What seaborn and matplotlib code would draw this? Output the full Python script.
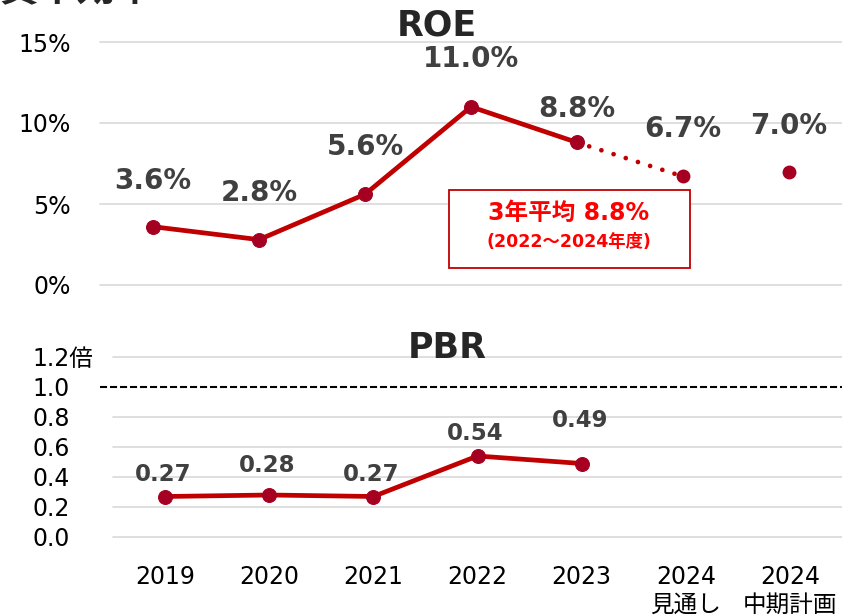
import matplotlib
matplotlib.use('Agg')
import matplotlib.pyplot as plt
import seaborn as sns
import pandas as pd
from matplotlib.patches import Rectangle

# ---------------- data ----------------
categories = ['2019', '2020', '2021', '2022', '2023', '2024\n見通し', '2024\n中期計画']
roe_actual = [3.6, 2.8, 5.6, 11.0, 8.8]
roe_forecast = 6.7
roe_plan = 7.0
pbr_actual = [0.27, 0.28, 0.27, 0.54, 0.49]
roe_ticks = [0, 5, 10, 15]
roe_tick_labels = ['0%', '5%', '10%', '15%']
pbr_ticks = [0.0, 0.2, 0.4, 0.6, 0.8, 1.0, 1.2]
pbr_tick_labels = ['0.0', '0.2', '0.4', '0.6', '0.8', '1.0', '1.2倍']
pbr_reference = 1.0
heading = '資本効率'
avg_title = '3年平均 8.8%'
avg_sub = '(2022～2024年度)'

# ---------------- style ----------------
sns.set_theme(style='white')
plt.rcParams['font.family'] = ['DejaVu Sans', 'Noto Sans CJK JP']

LINE = '#C00000'
MARK = '#A50021'
LABEL = '#404040'
GRID = '#D9D9D9'
W, H = 842, 616

fig = plt.figure(figsize=(W / 100, H / 100), dpi=100)
ax1 = fig.add_axes([100 / W, 1 - 285 / H, 742 / W, 243 / H])
ax2 = fig.add_axes([113 / W, 1 - 537 / H, 729 / W, 180 / H])

# ---------------- ROE ----------------
n = len(roe_actual)
roe_df = pd.DataFrame({'x': list(range(n)), 'v': roe_actual})
fc_df = pd.DataFrame({'x': [n - 1, n], 'v': [roe_actual[-1], roe_forecast]})
pt_df = pd.DataFrame({'x': [n, n + 1], 'v': [roe_forecast, roe_plan]})

sns.lineplot(data=fc_df, x='x', y='v', ax=ax1, color=LINE, linewidth=3.4,
             linestyle=(0, (0.01, 2.7)), dash_capstyle='round', zorder=2)
sns.lineplot(data=roe_df, x='x', y='v', ax=ax1, color=LINE, linewidth=3.4,
             marker='o', markersize=10, markerfacecolor=MARK,
             markeredgecolor=MARK, zorder=3)
sns.scatterplot(data=pt_df, x='x', y='v', ax=ax1, color=MARK, s=100,
                edgecolor=MARK, linewidth=0, zorder=4)

roe_all = roe_actual + [roe_forecast, roe_plan]
roe_off = [46, 47, 47, 48, 33, 47, 46]
for i, v in enumerate(roe_all):
    ax1.annotate(f'{v:.1f}%', (i, v), xytext=(0, roe_off[i]), textcoords='offset pixels',
                 ha='center', va='center', fontsize=20, fontweight='bold', color=LABEL)

ax1.set_xlim(-0.5, len(categories) - 0.5)
ax1.set_ylim(0, 15)
ax1.set_yticks(roe_ticks)
ax1.set_yticklabels(roe_tick_labels)
ax1.set_xticks(range(len(categories)))
ax1.tick_params(axis='x', labelbottom=False, length=0)
ax1.tick_params(axis='y', length=0, pad=21, labelsize=17, labelcolor='#000000')
ax1.grid(axis='y', color=GRID, linewidth=1.2)
ax1.grid(axis='x', visible=False)
for gl in ax1.yaxis.get_gridlines():
    gl.set_clip_on(False)
ax1.set_xlabel('')
ax1.set_ylabel('')
for s in ax1.spines.values():
    s.set_visible(False)

# ---------------- PBR ----------------
pbr_df = pd.DataFrame({'x': list(range(len(pbr_actual))), 'v': pbr_actual})
sns.lineplot(data=pbr_df, x='x', y='v', ax=ax2, color=LINE, linewidth=3.4,
             marker='o', markersize=10, markerfacecolor=MARK,
             markeredgecolor=MARK, zorder=3)
pbr_off = [22, 30, 22, 23, 43]
for i, v in enumerate(pbr_actual):
    ax2.annotate(f'{v:.2f}', (i, v), xytext=(-2, pbr_off[i]), textcoords='offset pixels',
                 ha='center', va='center', fontsize=16.5, fontweight='bold', color=LABEL)

ax2.set_xlim(-0.5, len(categories) - 0.5)
ax2.set_ylim(0, 1.2)
ax2.set_yticks(pbr_ticks)
ax2.set_yticklabels(pbr_tick_labels, ha='left')
ax2.set_xticks(range(len(categories)))
ax2.set_xticklabels(categories)
ax2.tick_params(axis='x', length=0, pad=20, labelsize=17, labelcolor='#000000')
ax2.tick_params(axis='y', length=0, pad=58, labelsize=17, labelcolor='#000000')
ax2.grid(axis='y', color=GRID, linewidth=1.2)
ax2.grid(axis='x', visible=False)
for t, gl in zip(pbr_ticks, ax2.yaxis.get_gridlines()):
    gl.set_clip_on(False)
    if t == pbr_reference:
        gl.set_visible(False)
ax2.axhline(pbr_reference, xmin=-13 / 729, xmax=1, color='black', linewidth=1.5,
            linestyle=(0, (3.4, 1.4)), clip_on=False, zorder=1)
ax2.set_xlabel('')
ax2.set_ylabel('')
for s in ax2.spines.values():
    s.set_visible(False)

# ---------------- titles & annotation ----------------
fig.text(437 / W, 1 - 25 / H, 'ROE', ha='center', va='center', fontsize=25, fontweight='bold')
fig.text(447 / W, 1 - 348 / H, 'PBR', ha='center', va='center', fontsize=25, fontweight='bold')
fig.text(0.0, 1 - 9 / H, heading, ha='left', va='bottom', fontsize=28, fontweight='bold')

fig.patches.append(Rectangle((449 / W, 1 - 268 / H), 241 / W, 78 / H, transform=fig.transFigure,
                             facecolor='white', edgecolor=LINE, linewidth=1.3, zorder=5))
fig.text(569 / W, 1 - 213 / H, avg_title, ha='center', va='center', fontsize=17,
         fontweight='bold', color='#FF0000', zorder=6)
fig.text(569 / W, 1 - 242 / H, avg_sub, ha='center', va='center', fontsize=12.5,
         fontweight='bold', color='#FF0000', zorder=6)

fig.savefig('out.png', dpi=100)
